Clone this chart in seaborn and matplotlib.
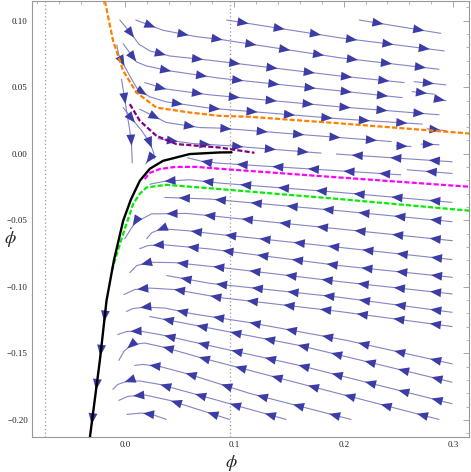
import numpy as np
import seaborn as sns
import matplotlib
matplotlib.use("Agg")
import matplotlib.pyplot as plt
from matplotlib.ticker import MultipleLocator, FixedLocator

# special trajectories (phi, phidot)
orange_phi = [-0.0182, -0.0107, -0.0015, 0.0107, 0.0289, 0.0593, 0.0866, 0.1139, 0.196, 0.3154]
orange_dphi = [0.1148, 0.0848, 0.0623, 0.0460, 0.0347, 0.0310, 0.0285, 0.0278, 0.0229, 0.0152]

purple_phi = [0.0046, 0.0137, 0.0289, 0.0471, 0.0866, 0.1185]
purple_dphi = [0.0373, 0.0248, 0.0135, 0.0073, 0.0047, 0.00075]

black_phi = [-0.0319, -0.0228, -0.0167, -0.0100, -0.0015, 0.0055, 0.0137, 0.0228, 0.0349, 0.0593, 0.0866, 0.0975]
black_dphi = [-0.2131, -0.1553, -0.1103, -0.0803, -0.0503, -0.0345, -0.0203, -0.0113, -0.0053, -0.0002, 0.0010, 0.0011]

magenta_phi = [0.0182, 0.0228, 0.0319, 0.0456, 0.0654, 0.0775, 0.196, 0.3154]
magenta_dphi = [-0.0190, -0.0143, -0.0115, -0.0099, -0.0098, -0.0107, -0.0178, -0.0248]

green_phi = [-0.0119, -0.0064, -0.0015, 0.0076, 0.0137, 0.0198, 0.038, 0.0866, 0.196, 0.3154]
green_dphi = [-0.0878, -0.0728, -0.0602, -0.0377, -0.030, -0.0253, -0.0233, -0.0265, -0.034, -0.0428]

# stream lines, each listed in the direction of the flow
upper_lines = [
    ([0.0100, 0.0349, 0.0654, 0.0866, 0.196, 0.2871], [0.1005, 0.0928, 0.0880, 0.0860, 0.0722, 0.0635]),
    ([0.093, 0.196, 0.2917], [0.1005, 0.0872, 0.0773]),
    ([0.2142, 0.2887], [0.1005, 0.0905]),
    ([-0.0046, 0.0046, 0.0130, 0.0228, 0.0410, 0.0775, 0.196, 0.2552], [0.1005, 0.0915, 0.0823, 0.0773, 0.0735, 0.0703, 0.0585, 0.0535]),
    ([0.2644, 0.2933], [0.0542, 0.0518]),
    ([-0.0015, 0.0046, 0.0107, 0.0198, 0.0410, 0.0866, 0.196, 0.2534], [0.0827, 0.0758, 0.069, 0.066, 0.0623, 0.0568, 0.0473, 0.0422]),
    ([0.2625, 0.2826], [0.0467, 0.0448]),
    ([0.2844, 0.2935], [0.0413, 0.0399]),
    ([0.0182, 0.0365, 0.0775, 0.196, 0.2871], [0.0535, 0.0488, 0.0443, 0.0353, 0.0293]),
    ([-0.0073, -0.0055, -0.0009, 0.0046, 0.0116, 0.0228, 0.038, 0.0775, 0.196, 0.2717],
     [0.0818, 0.0743, 0.0668, 0.0585, 0.0485, 0.0428, 0.039, 0.0343, 0.0263, 0.0223]),
    ([0.2762, 0.2935], [0.0188, 0.0173]),
    ([0.0137, 0.038, 0.0684, 0.0866, 0.196, 0.2434], [0.0335, 0.0235, 0.0197, 0.0193, 0.0122, 0.0092]),
    ([0.248, 0.2616], [0.0060, 0.0055]),
    ([0.2707, 0.2871], [0.0073, 0.0068]),
    ([0.0301, 0.062, 0.0957, 0.144, 0.1793], [0.0113, 0.0077, 0.0060, 0.0028, 0.0005]),
    ([-0.003, 0.0009, 0.0046, 0.0061, 0.0068], [0.056, 0.036, 0.0173, 0.0075, -0.0068]),
    ([-0.0015, 0.0064, 0.0155, 0.0228, 0.0264, 0.0269], [0.0348, 0.0263, 0.0173, 0.0083, 0.0008, -0.0038]),
    ([0.0246, 0.0191], [-0.0015, -0.0075]),
]

lower_lines = [
    ([0.299, 0.1933], [-0.006, -0.0002]),
    ([0.2522, 0.196, 0.0866, 0.0711, 0.0574], [-0.0158, -0.0128, -0.0071, -0.0058, -0.003]),
    ([0.299, 0.258], [-0.0148, -0.012]),
    ([0.299, 0.196, 0.0866, 0.0593, 0.0365, 0.0228], [-0.0365, -0.029, -0.022, -0.0195, -0.0206, -0.0229]),
    ([0.299, 0.196, 0.0775, 0.0365], [-0.051, -0.0428, -0.034, -0.0328]),
    ([0.2993, 0.196, 0.0775, 0.0562, 0.0243, 0.0091, 0.0], [-0.0653, -0.0565, -0.0465, -0.0448, -0.0452, -0.0518, -0.0638]),
    ([0.299, 0.196, 0.0775, 0.0574, 0.0337, 0.0246, 0.020], [-0.0795, -0.0703, -0.0598, -0.0578, -0.0563, -0.0593, -0.0638]),
    ([0.2993, 0.196, 0.0775, 0.0346, 0.021, 0.0137], [-0.0928, -0.084, -0.0715, -0.0683, -0.069, -0.0713]),
    ([0.299, 0.196, 0.0866, 0.0456, 0.0228, 0.0109, 0.0046], [-0.1053, -0.096, -0.0853, -0.0818, -0.0815, -0.084, -0.0893]),
    ([0.299, 0.196, 0.0775, 0.0383], [-0.1191, -0.1078, -0.0973, -0.0915]),
    ([0.299, 0.196, 0.0866, 0.0456, 0.0228, 0.0091, -0.0009], [-0.1298, -0.1185, -0.108, -0.102, -0.1009, -0.102, -0.1058]),
    ([0.299, 0.2033, 0.1139, 0.0623, 0.0365, 0.0182, 0.0073, 0.0015],
     [-0.1578, -0.1403, -0.1268, -0.1203, -0.1159, -0.1152, -0.1163, -0.1185]),
    ([0.299, 0.1595, 0.0608, 0.0228], [-0.1716, -0.144, -0.1283, -0.1223]),
    ([0.299, 0.1595, 0.0684, 0.0319, 0.0137, 0.0018, -0.0064], [-0.1878, -0.159, -0.1425, -0.1358, -0.1332, -0.1335, -0.1358]),
    ([0.2871, 0.1595, 0.0684, 0.0365, 0.0182, 0.0064, -0.0009, -0.0055],
     [-0.1996, -0.1725, -0.153, -0.1455, -0.1422, -0.1433, -0.1485, -0.1553]),
    ([0.2067, 0.1139, 0.0593, 0.0319, 0.0164, 0.0091], [-0.1996, -0.18, -0.1658, -0.1598, -0.1583, -0.159]),
    ([0.1474, 0.0684, 0.0319, 0.0137, 0.0027, -0.0064, -0.0109], [-0.1996, -0.1815, -0.1733, -0.1707, -0.1707, -0.1733, -0.177]),
    ([0.0957, 0.041, 0.0182, 0.0027, -0.0055], [-0.1996, -0.1853, -0.1812, -0.1823, -0.1853]),
    ([0.038, 0.0246, 0.0152, 0.0018], [-0.1996, -0.1958, -0.1948, -0.1958]),
    ([-0.0167, -0.0228, -0.0319], [-0.1103, -0.1553, -0.2131]),
]

vlines = [-0.073, 0.0963]
xticks = [0.0, 0.1, 0.2, 0.3]
xticklabels = ["0.0", "0.1", "0.2", "0.3"]
yticks = [-0.20, -0.15, -0.10, -0.05, 0.0, 0.05, 0.10]
yticklabels = ["\u22120.20", "\u22120.15", "\u22120.10", "\u22120.05", "0.00", "0.05", "0.10"]

sns.set_style("white")
plt.rcParams["font.family"] = ["Liberation Serif", "DejaVu Serif"]
plt.rcParams["mathtext.fontset"] = "stix"

fig = plt.figure(figsize=(4.71, 4.72), dpi=100)
ax = fig.add_axes([32 / 471, 1 - 437 / 472, 437 / 471, 436 / 472])
ax.set_xlim(-0.0848, 0.3145)
ax.set_ylim(-0.2128, 0.1148)

stream_line = "#8484c6"
stream_head = "#3c3ca6"
dash = (2.3, 1.0)

for v in vlines:
    ax.axvline(v, color="#9a9a9a", lw=0.9, ls=(0, (1, 2)), zorder=1)

for phi, dphi in upper_lines + lower_lines:
    sns.lineplot(x=phi, y=dphi, sort=False, estimator=None, ax=ax, color=stream_line, lw=0.8, zorder=2)

# arrow heads spread along each stream line
fig.canvas.draw()
inv = ax.transData.inverted()
for phi, dphi in upper_lines + lower_lines:
    pts = ax.transData.transform(np.column_stack([phi, dphi]))
    seg = np.hypot(*np.diff(pts, axis=0).T)
    cum = np.concatenate([[0], np.cumsum(seg)])
    total = cum[-1]
    n = max(1, int(round(total / 36)))
    for k in range(n):
        s = min((k + 0.5) * total / n + 4, total)
        p1 = inv.transform((np.interp(s, cum, pts[:, 0]), np.interp(s, cum, pts[:, 1])))
        p0 = inv.transform((np.interp(s - 3, cum, pts[:, 0]), np.interp(s - 3, cum, pts[:, 1])))
        ax.annotate("", xy=p1, xytext=p0,
                    arrowprops=dict(arrowstyle="-|>,head_length=0.8,head_width=0.32",
                                    color=stream_head, lw=0, mutation_scale=10),
                    zorder=3)

sns.lineplot(x=orange_phi, y=orange_dphi, sort=False, estimator=None, ax=ax,
             color="#ff8000", lw=1.6, zorder=4)
ax.lines[-1].set_dashes(dash)
sns.lineplot(x=purple_phi, y=purple_dphi, sort=False, estimator=None, ax=ax,
             color="#800080", lw=1.6, zorder=4)
ax.lines[-1].set_dashes(dash)
sns.lineplot(x=black_phi, y=black_dphi, sort=False, estimator=None, ax=ax,
             color="black", lw=1.7, zorder=5)
sns.lineplot(x=magenta_phi, y=magenta_dphi, sort=False, estimator=None, ax=ax,
             color="#ff00ff", lw=1.6, zorder=4)
ax.lines[-1].set_dashes(dash)
sns.lineplot(x=green_phi, y=green_dphi, sort=False, estimator=None, ax=ax,
             color="#00ee00", lw=1.6, zorder=4)
ax.lines[-1].set_dashes(dash)

ax.xaxis.set_major_locator(FixedLocator(xticks))
ax.set_xticklabels(xticklabels)
ax.yaxis.set_major_locator(FixedLocator(yticks))
ax.set_yticklabels(yticklabels)
ax.xaxis.set_minor_locator(MultipleLocator(0.02))
ax.yaxis.set_minor_locator(MultipleLocator(0.01))
ax.tick_params(which="both", direction="in", top=True, right=True, color="#999999",
               labelsize=6.5, labelcolor="#222222", pad=3)
ax.tick_params(which="major", length=4, width=0.6)
ax.tick_params(which="minor", length=2, width=0.5)
for sp in ax.spines.values():
    sp.set_color("#999999")
    sp.set_linewidth(0.8)

ax.set_xlabel(r"$\phi$", fontsize=13, va="top")
ax.set_ylabel(r"$\dot{\phi}$", fontsize=13, rotation=0, ha="center", va="center")
ax.xaxis.set_label_coords(0.457, -0.036)
ax.yaxis.set_label_coords(-0.05, 0.456)

fig.savefig("out.png", dpi=100)
